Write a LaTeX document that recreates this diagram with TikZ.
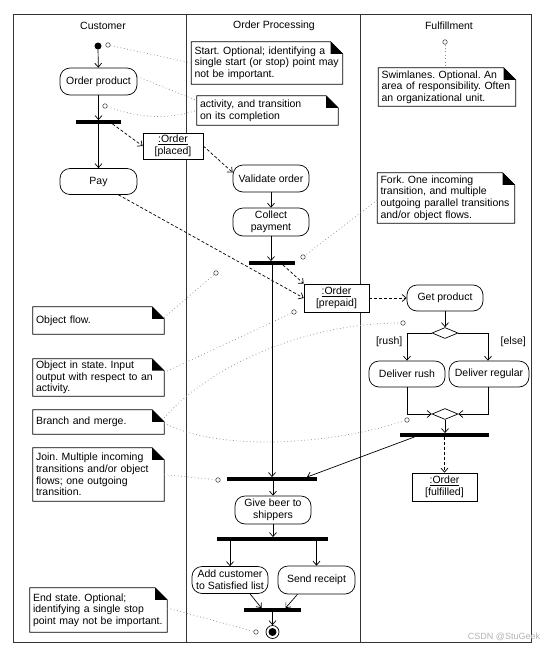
\documentclass[tikz,border=0pt]{standalone}
\usepackage{fontspec}
\setmainfont{Liberation Sans}
\usetikzlibrary{arrows.meta,shapes.geometric,positioning,calc}

\newcommand{\diagfont}{\fontsize{10.5}{11.7}\selectfont}

\begin{document}
\frenchspacing
\begin{tikzpicture}[
    x=1pt, y=-1pt,
    font=\diagfont,
    act/.style={rectangle, draw, fill=white, rounded corners=10pt, line width=0.7pt, minimum width=77pt, minimum height=27pt, align=center, inner sep=1pt},
    obj/.style={rectangle, draw, fill=white, line width=0.7pt, minimum width=65pt, minimum height=27pt, align=center, inner sep=1pt},
    bar/.style={rectangle, fill=black, inner sep=0pt, minimum height=3.5pt},
    choice/.style={diamond, draw, fill=white, line width=0.7pt, inner sep=0pt, minimum width=26pt, minimum height=11pt},
    startdot/.style={circle, fill=black, inner sep=0pt, minimum size=7pt},
    enddot/.style={circle, draw, line width=0.7pt, inner sep=0pt, minimum size=13pt, path picture={\fill (path picture bounding box.center) circle (4pt);}},
    note/.style={rectangle, inner xsep=3pt, inner ysep=2pt, align=left, execute at begin node={\hyphenpenalty=10000\exhyphenpenalty=10000}},
    knob/.style={circle, draw=black!70, fill=white, line width=0.6pt, inner sep=0pt, minimum size=4.5pt},
    flow/.style={-{Straight Barb[length=4pt,width=7pt]}, line width=0.7pt},
    oflow/.style={flow, dash pattern=on 3pt off 2pt},
    notelink/.style={draw=black!45, line width=0.7pt, dash pattern=on 0.8pt off 2.6pt},
    lane/.style={draw=black!80, line width=0.8pt}
]
    \useasboundingbox (0,0) rectangle (544,649);

    % swimlanes
    \draw[lane] (13,14) rectangle (531,642);
    \draw[lane] (186,14) -- (186,642);
    \draw[lane] (360,14) -- (360,642);
    \node (hcust) at (103,26) {Customer};
    \node (hproc) at (274,26) {Order Processing};
    \node (hfulf) at (449,26) {Fulfillment};

    % customer
    \node[startdot] (start) at (98,46) {};
    \node[act] (order) at (98.5,81.5) {Order product};
    \node[bar, minimum width=45pt] (fork1) at (98.5,122) {};
    \node[act, minimum height=26pt] (pay) at (98.5,181.5) {Pay};
    \node[obj, minimum width=60pt, minimum height=26pt] (placed) at (173,146) {\underline{:Order}\\{[placed]}};

    % order processing
    \node[act, minimum width=76pt] (validate) at (271,178.5) {Validate order};
    \node[act, minimum width=76pt, minimum height=28pt] (collect) at (271,222) {Collect\\payment};
    \node[bar, minimum width=46pt] (fork2) at (272,263) {};
    \node[obj, minimum height=28pt] (prepaid) at (336.5,298) {\underline{:Order}\\{[prepaid]}};
    \node[bar, minimum width=90pt] (join1) at (272,479) {};
    \node[act, minimum width=76pt, minimum height=28pt] (beer) at (273,510) {Give beer to\\shippers};
    \node[bar, minimum width=111pt] (fork4) at (272.5,539) {};
    \node[act, minimum width=76pt] (addcust) at (230,580) {Add customer\\to Satisfied list};
    \node[act, minimum height=28pt] (receipt) at (316.5,580) {Send receipt};
    \node[bar, minimum width=57pt] (join2) at (272.5,610) {};
    \node[enddot] (stop) at (272.5,632) {};

    % fulfillment
    \node[act, minimum width=76pt, minimum height=26pt] (getprod) at (445,298) {Get product};
    \node[choice] (branch) at (445,333) {};
    \node[act, minimum width=76pt, minimum height=26pt] (rush) at (407,374) {Deliver rush};
    \node[act, minimum width=80pt, minimum height=26pt] (regular) at (489,374) {Deliver regular};
    \node[choice] (merge) at (445,414) {};
    \node[bar, minimum width=89pt] (fork3) at (444.5,435) {};
    \node[obj, minimum height=28pt] (fulfilled) at (444.5,487) {\underline{:Order}\\{[fulfilled]}};

    % notes
    \node[note, text width=145pt, minimum height=42pt] (nstart) at (267,63) {Start. Optional; identifying a\\single start (or stop) point may\\not be important.};
    \node[note, text width=135pt, minimum height=29pt] (nact) at (267.5,110.5) {activity, and transition\\on its completion};
    \node[note, text width=131pt, minimum height=38pt] (nswim) at (447,87) {Swimlanes. Optional. An\\area of responsibility. Often\\an organizational unit.};
    \node[note, text width=131pt, minimum height=50pt] (nfork) at (446,198) {Fork. One incoming\\transition, and multiple\\outgoing parallel transitions\\and/or object flows.};
    \node[note, text width=125pt, minimum height=27pt] (nflow) at (98.5,320.5) {Object flow.};
    \node[note, text width=125pt, minimum height=37pt] (nstate) at (98.5,377.5) {Object in state. Input\\output with respect to an\\activity.};
    \node[note, text width=125pt, minimum height=24pt] (nbranch) at (98.5,422) {Branch and merge.};
    \node[note, text width=125pt, minimum height=53pt] (njoin) at (98.5,474.5) {Join. Multiple incoming\\transitions and/or object\\flows; one outgoing\\transition.};
    \node[note, text width=131pt, minimum height=44pt] (nend) at (98.5,610) {End state. Optional;\\identifying a single stop\\point may not be important.};

    \foreach \n in {nstart,nact,nswim,nfork,nflow,nstate,nbranch,njoin,nend}{
        \draw[line width=0.7pt] (\n.north west) -- ([xshift=-12pt]\n.north east) -- ([yshift=-12pt]\n.north east) -- (\n.south east) -- (\n.south west) -- cycle;
        \fill ([xshift=-12pt]\n.north east) -- ([xshift=-12pt,yshift=-12pt]\n.north east) -- ([yshift=-12pt]\n.north east) -- cycle;
    }

    % note anchors
    \node[knob] (k1) at (108,45) {};
    \node[knob] (k2) at (105,106) {};
    \node[knob] (k3) at (445,42) {};
    \node[knob] (k4) at (303,257) {};
    \node[knob] (k5) at (216,273) {};
    \node[knob] (k6) at (294,312) {};
    \node[knob] (k7) at (403,323) {};
    \node[knob] (k8) at (407,420) {};
    \node[knob] (k9) at (218,480) {};
    \node[knob] (k10) at (256,632) {};

    \draw[notelink] (k1) -- (nstart.west);
    \draw[notelink] ([yshift=5pt]order.east) -- ([yshift=10pt]nact.west);
    \draw[notelink] (k2) .. controls (140,118) and (165,120) .. (nact.west);
    \draw[notelink] (k3) -- (k3 |- nswim.north);
    \draw[notelink] ([yshift=-2pt]nfork.west) -- (k4);
    \draw[notelink] ([yshift=3pt]nflow.east) -- (k5);
    \draw[notelink] ([yshift=5pt]nstate.east) -- (k6);
    \draw[notelink] ([yshift=4pt]nbranch.east) .. controls (205,370) and (300,323) .. (k7);
    \draw[notelink] ([yshift=-1pt]nbranch.east) .. controls (220,452) and (330,445) .. (k8);
    \draw[notelink] (njoin.east) -- (k9);
    \draw[notelink] ([yshift=2pt]nend.east) -- (k10);

    % transitions and object flows
    \draw[flow] (start) -- (order);
    \draw[flow] (order) -- (order |- fork1.north);
    \draw[flow] (fork1.south -| pay) -- (pay);
    \draw[oflow] ([xshift=14pt]fork1.south) -- (placed.west);
    \draw[oflow] (placed.east) -- ([yshift=6pt]validate.west);
    \draw[flow] (validate) -- (collect);
    \draw[flow] (collect.south) -- (collect.south |- fork2.north);
    \draw[flow] (fork2.south) -- (fork2.south |- join1.north);
    \draw[oflow] ([xshift=11pt]fork2.south) -- (prepaid.north west);
    \draw[oflow] ([xshift=20pt]pay.south) -- (prepaid.west);
    \draw[oflow] (prepaid) -- (getprod);
    \draw[flow] (getprod) -- (branch);
    \draw[flow] (branch.west) -| node[pos=0.65, left=1pt] {[rush]} (rush.north);
    \draw[flow] (branch.east) -| node[pos=0.65, right=9pt] {[else]} ([xshift=-1pt]regular.north);
    \draw[flow] (rush.south) |- (merge.west);
    \draw[flow] ([xshift=-1pt]regular.south) |- (merge.east);
    \draw[flow] (merge.south) -- (merge.south |- fork3.north);
    \draw[oflow] (fork3.south) -- (fulfilled.north);
    \draw[flow] ([xshift=-30pt]fork3.south) -- ([xshift=35pt]join1.north);
    \draw[flow] (join1.south -| beer) -- (beer.north);
    \draw[flow] (beer.south) -- (beer.south |- fork4.north);
    \draw[flow] (fork4.south -| addcust) -- (addcust.north);
    \draw[flow] (fork4.south -| receipt) -- (receipt.north);
    \draw[flow] ([xshift=20pt]addcust.south) -- ([xshift=-11pt]join2.north);
    \draw[flow] ([xshift=-19pt]receipt.south) -- ([xshift=13pt]join2.north);
    \draw[flow] (join2.south) -- (stop);

    \node[text=black!30, font=\fontsize{9}{10}\selectfont] (mark) at (504,637) {CSDN @StuGeek};
\end{tikzpicture}
\end{document}
